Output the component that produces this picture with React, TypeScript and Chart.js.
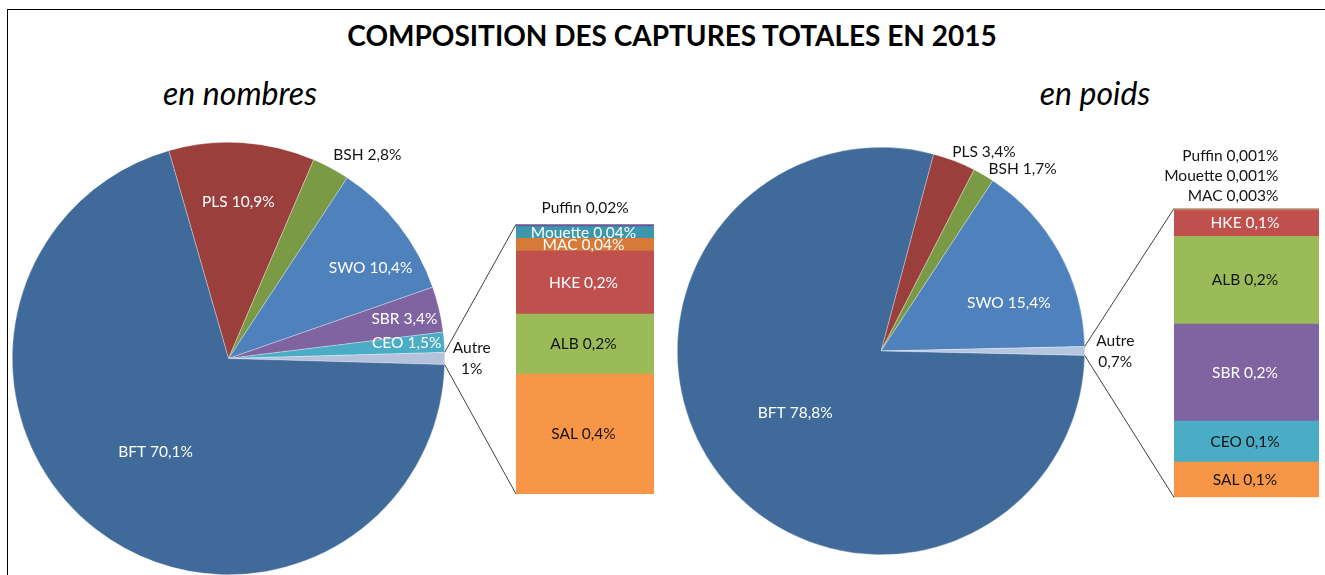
import React, { useEffect, useRef } from 'react';
import { Chart, registerables } from 'chart.js';

Chart.register(...registerables);

// ---------------- DATA ----------------
const chartTitle = 'COMPOSITION DES CAPTURES TOTALES EN 2015';
const subtitleNombres = 'en nombres';
const subtitlePoids = 'en poids';

// Pie "en nombres" (clockwise order from the top)
const pieNbCategories = ['PLS', 'BSH', 'SWO', 'SBR', 'CEO', 'Autre', 'BFT'];
const pieNbValues = [10.9, 2.8, 10.4, 3.4, 1.5, 0.9, 70.1];
const pieNbPctLabels = ['10,9%', '2,8%', '10,4%', '3,4%', '1,5%', '1%', '70,1%'];

// Bar "en nombres" (bottom to top)
const barNbCategories = ['SAL', 'ALB', 'HKE', 'MAC', 'Mouette', 'Puffin'];
const barNbValues = [0.4, 0.2, 0.21, 0.042, 0.039, 0.008];
const barNbPctLabels = ['0,4%', '0,2%', '0,2%', '0,04%', '0,04%', '0,02%'];

// Pie "en poids"
const piePdsCategories = ['PLS', 'BSH', 'SWO', 'Autre', 'BFT'];
const piePdsValues = [3.4, 1.7, 15.4, 0.7, 78.8];
const piePdsPctLabels = ['3,4%', '1,7%', '15,4%', '0,7%', '78,8%'];

// Bar "en poids" (bottom to top)
const barPdsCategories = ['SAL', 'CEO', 'SBR', 'ALB', 'HKE', 'MAC', 'Mouette', 'Puffin'];
const barPdsValues = [0.086, 0.1, 0.237, 0.214, 0.063, 0.003, 0.001, 0.001];
const barPdsPctLabels = ['0,1%', '0,1%', '0,2%', '0,2%', '0,1%', '0,003%', '0,001%', '0,001%'];

// ---------------- STYLE ----------------
const W = 1325;
const H = 575;
const FONT = 'Lato, "Open Sans", "DejaVu Sans", sans-serif';
const LABEL_FONT = `15.5px ${FONT}`;
const DARK = '#141414';
const WHITE = '#ffffff';

const pieNbColors = ['#9B3F3C', '#7B9A45', '#4F81BD', '#8064A2', '#4BACC6', '#B4C2DC', '#406A9A'];
const pieNbTextColors = [WHITE, DARK, WHITE, WHITE, WHITE, DARK, WHITE];
const pieNbPlacement = [
  { r: 0.725, da: 0 },
  { r: 1.14, da: 6 },
  { r: 0.78, da: 5.4 },
  { r: 0.834, da: 0.4 },
  { r: 0.827, da: -0.7 },
  { r: 1.125, da: 0, twoLines: true },
  { r: 0.55, da: 0 },
];

const piePdsColors = ['#9B3F3C', '#7B9A45', '#4F81BD', '#B4C6E0', '#406A9A'];
const piePdsTextColors = [DARK, DARK, WHITE, DARK, WHITE];
const piePdsPlacement = [
  { r: 1.1, da: 6.3 },
  { r: 1.13, da: 7.7 },
  { r: 0.67, da: 8.4 },
  { r: 1.15, da: 0, twoLines: true },
  { r: 0.52, da: 1 },
];

const barNbColors = ['#F79646', '#9BBB59', '#C0504D', '#D67A3A', '#3C97AD', '#6C5596'];
const barNbTextColors = [DARK, DARK, WHITE, WHITE, WHITE, DARK];
const barPdsColors = ['#F79646', '#4BACC6', '#8064A2', '#9BBB59', '#C0504D', '#D67A3A', '#3C97AD', '#6C5596'];
const barPdsTextColors = [DARK, DARK, WHITE, DARK, WHITE, DARK, DARK, DARK];

type PieGeom = { cx: number; cy: number; r: number };
type BarGeom = { x0: number; x1: number; y0: number; y1: number };

const pieNbGeom: PieGeom = { cx: 228.5, cy: 358.5, r: 216.5 };
const barNbGeom: BarGeom = { x0: 516, x1: 654, y0: 224.3, y1: 494 };
const piePdsGeom: PieGeom = { cx: 881, cy: 351, r: 204 };
const barPdsGeom: BarGeom = { x0: 1174, x1: 1319, y0: 208.5, y1: 497.3 };

const barNbOutside = { align: 'center' as CanvasTextAlign, dx: 0, gap: 16, step: 20 };
const barPdsOutside = { align: 'right' as CanvasTextAlign, dx: 32, gap: 12.5, step: 20 };

const sum = (a: number[]) => a.reduce((s, v) => s + v, 0);

function makePie(
  canvas: HTMLCanvasElement,
  cats: string[],
  vals: number[],
  pcts: string[],
  colors: string[],
  textColors: string[],
  placement: { r: number; da: number; twoLines?: boolean }[],
  geom: PieGeom
) {
  const total = sum(vals);
  const autreIdx = cats.indexOf('Autre');
  const before = sum(vals.slice(0, autreIdx));
  const rotation = 90 - ((before + vals[autreIdx] / 2) / total) * 360;
  const labelPlugin = {
    id: 'pieLabels',
    afterDatasetsDraw(chart: any) {
      const ctx = chart.ctx as CanvasRenderingContext2D;
      const meta = chart.getDatasetMeta(0);
      ctx.save();
      ctx.font = LABEL_FONT;
      ctx.textAlign = 'center';
      ctx.textBaseline = 'middle';
      meta.data.forEach((arc: any, i: number) => {
        const p = placement[i];
        const a = (arc.startAngle + arc.endAngle) / 2 + (p.da * Math.PI) / 180;
        const rr = arc.outerRadius * p.r;
        const lx = arc.x + rr * Math.cos(a);
        const ly = arc.y + rr * Math.sin(a);
        ctx.fillStyle = textColors[i];
        if (p.twoLines) {
          ctx.fillText(cats[i], lx, ly - 10.5);
          ctx.fillText(pcts[i], lx, ly + 10.5);
        } else {
          ctx.fillText(`${cats[i]} ${pcts[i]}`, lx, ly);
        }
      });
      ctx.restore();
    },
  };
  return new Chart(canvas, {
    type: 'pie',
    data: {
      labels: cats,
      datasets: [
        {
          data: vals,
          backgroundColor: colors,
          borderColor: 'rgba(255,255,255,0.6)',
          borderWidth: 0.5,
          hoverOffset: 0,
        },
      ],
    },
    options: {
      responsive: false,
      animation: false,
      events: [],
      rotation,
      layout: {
        padding: {
          left: geom.cx - geom.r,
          top: geom.cy - geom.r,
          right: W - (geom.cx + geom.r),
          bottom: H - (geom.cy + geom.r),
        },
      },
      plugins: { legend: { display: false }, tooltip: { enabled: false }, title: { display: false } },
    },
    plugins: [labelPlugin],
  } as any);
}

function makeBar(
  canvas: HTMLCanvasElement,
  cats: string[],
  vals: number[],
  pcts: string[],
  colors: string[],
  textColors: string[],
  geom: BarGeom,
  outside: { align: CanvasTextAlign; dx: number; gap: number; step: number },
  pie: any
) {
  const total = sum(vals);
  const labelPlugin = {
    id: 'barLabels',
    afterDatasetsDraw(chart: any) {
      const ctx = chart.ctx as CanvasRenderingContext2D;
      ctx.save();
      ctx.font = LABEL_FONT;
      ctx.textBaseline = 'middle';
      const topEl = chart.getDatasetMeta(cats.length - 1).data[0];
      const barTop = Math.min(topEl.y, topEl.base);
      let k = 0;
      cats.forEach((c, i) => {
        const el = chart.getDatasetMeta(i).data[0];
        const h = Math.abs(el.base - el.y);
        const txt = `${c} ${pcts[i]}`;
        ctx.fillStyle = textColors[i];
        if (h < 6) {
          ctx.textAlign = outside.align;
          ctx.fillText(txt, el.x + outside.dx, barTop - outside.gap - k * outside.step);
          k++;
        } else {
          ctx.textAlign = 'center';
          ctx.fillText(txt, el.x - 1.5, (el.y + el.base) / 2);
        }
      });
      ctx.restore();
    },
  };
  const connectorPlugin = {
    id: 'connector',
    afterDraw(chart: any) {
      const ctx = chart.ctx as CanvasRenderingContext2D;
      const arcs = pie.getDatasetMeta(0).data;
      const arc = arcs[pie.data.labels.indexOf('Autre')];
      const R = arc.outerRadius;
      const p1 = [arc.x + R * Math.cos(arc.startAngle), arc.y + R * Math.sin(arc.startAngle)];
      const p2 = [arc.x + R * Math.cos(arc.endAngle), arc.y + R * Math.sin(arc.endAngle)];
      const bottomEl = chart.getDatasetMeta(0).data[0];
      const topEl = chart.getDatasetMeta(cats.length - 1).data[0];
      const left = bottomEl.x - bottomEl.width / 2;
      ctx.save();
      ctx.strokeStyle = '#404040';
      ctx.lineWidth = 1;
      ctx.beginPath();
      ctx.moveTo(p1[0], p1[1]);
      ctx.lineTo(left, topEl.y);
      ctx.moveTo(p2[0], p2[1]);
      ctx.lineTo(left, bottomEl.base);
      ctx.stroke();
      ctx.restore();
    },
  };
  return new Chart(canvas, {
    type: 'bar',
    data: {
      labels: ['Autre'],
      datasets: cats.map((c, i) => ({
        label: c,
        data: [vals[i]],
        backgroundColor: colors[i],
        borderWidth: 0,
        categoryPercentage: 1,
        barPercentage: 1,
      })),
    },
    options: {
      responsive: false,
      animation: false,
      events: [],
      layout: {
        padding: { left: geom.x0, right: W - geom.x1, top: geom.y0, bottom: H - geom.y1 },
      },
      scales: {
        x: { stacked: true, display: false },
        y: { stacked: true, display: false, min: 0, max: total },
      },
      plugins: { legend: { display: false }, tooltip: { enabled: false }, title: { display: false } },
    },
    plugins: [labelPlugin, connectorPlugin],
  } as any);
}

const canvasStyle: React.CSSProperties = {
  position: 'absolute',
  left: 0,
  top: 0,
  width: W,
  height: H,
};

export default function App() {
  const pieNbRef = useRef<HTMLCanvasElement>(null);
  const barNbRef = useRef<HTMLCanvasElement>(null);
  const piePdsRef = useRef<HTMLCanvasElement>(null);
  const barPdsRef = useRef<HTMLCanvasElement>(null);

  useEffect(() => {
    const p1 = makePie(pieNbRef.current!, pieNbCategories, pieNbValues, pieNbPctLabels, pieNbColors, pieNbTextColors, pieNbPlacement, pieNbGeom);
    const b1 = makeBar(barNbRef.current!, barNbCategories, barNbValues, barNbPctLabels, barNbColors, barNbTextColors, barNbGeom, barNbOutside, p1);
    const p2 = makePie(piePdsRef.current!, piePdsCategories, piePdsValues, piePdsPctLabels, piePdsColors, piePdsTextColors, piePdsPlacement, piePdsGeom);
    const b2 = makeBar(barPdsRef.current!, barPdsCategories, barPdsValues, barPdsPctLabels, barPdsColors, barPdsTextColors, barPdsGeom, barPdsOutside, p2);
    return () => {
      b1.destroy();
      p1.destroy();
      b2.destroy();
      p2.destroy();
    };
  }, []);

  const textBase: React.CSSProperties = {
    position: 'absolute',
    transform: 'translate(-50%, -50%)',
    whiteSpace: 'nowrap',
    lineHeight: 1,
    fontFamily: FONT,
    color: '#000',
  };

  return (
    <div style={{ position: 'absolute', left: 0, top: 0, width: W, height: H, background: '#fff', overflow: 'hidden' }}>
      <div style={{ position: 'absolute', left: 7, top: 9, right: 0, bottom: 0, borderTop: '1px solid #000', borderLeft: '1px solid #000' }} />
      <div style={{ ...textBase, left: 672, top: 35, fontSize: 28, fontWeight: 700 }}>{chartTitle}</div>
      <div style={{ ...textBase, left: 240, top: 93, fontSize: 32, fontStyle: 'italic' }}>{subtitleNombres}</div>
      <div style={{ ...textBase, left: 1095, top: 93, fontSize: 32, fontStyle: 'italic' }}>{subtitlePoids}</div>
      <canvas ref={pieNbRef} width={W} height={H} style={canvasStyle} />
      <canvas ref={barNbRef} width={W} height={H} style={canvasStyle} />
      <canvas ref={piePdsRef} width={W} height={H} style={canvasStyle} />
      <canvas ref={barPdsRef} width={W} height={H} style={canvasStyle} />
    </div>
  );
}
